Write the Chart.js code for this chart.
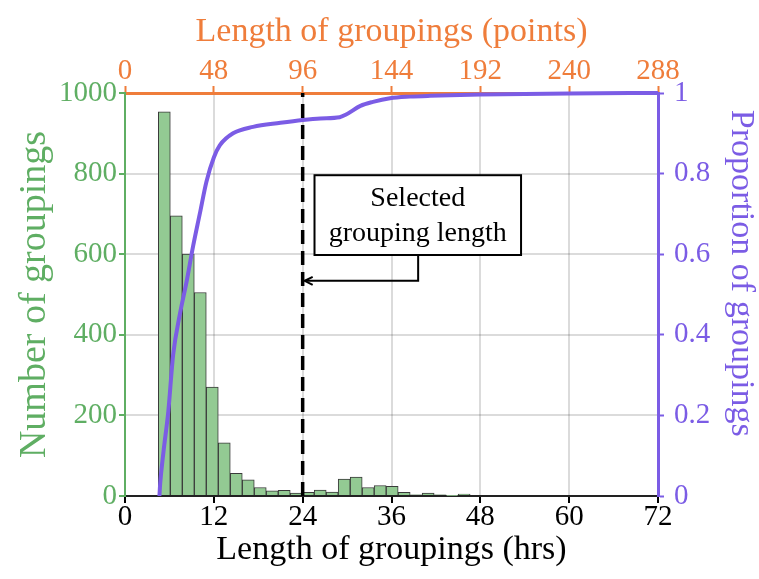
<!DOCTYPE html>
<html>
<head>
<meta charset="utf-8">
<script src="https://cdn.jsdelivr.net/npm/chart.js@4"></script>
<style>
  html, body { margin: 0; padding: 0; background: #fff; }
  #wrap { width: 759px; height: 579px; }
</style>
</head>
<body>
<div id="wrap"><canvas id="myChart" width="759" height="579"></canvas></div>
<script>
// histogram: bin centres (hrs) and counts
const binCenters = [5.31, 6.93, 8.55, 10.17, 11.79, 13.41, 15.03, 16.65, 18.27, 19.89, 21.51, 23.13, 24.75,
  26.37, 27.99, 29.61, 31.23, 32.85, 34.47, 36.09, 37.71, 39.33, 40.95, 42.57, 44.19, 45.81];
const counts = [953, 695, 600, 505, 270, 132, 56, 40, 21, 13, 14, 7, 9, 15, 10, 42, 47, 21, 26, 24, 9, 3, 7, 3, 1, 5];

// cumulative proportion curve
const cdfHours = [4.65, 4.75, 5.2, 5.85, 6.5, 7.4, 8.3, 9.2, 10.1, 11.0, 12.0, 12.8, 14.6, 17.3, 21.0, 24.0,
  26.4, 29.0, 29.8, 31.8, 33.5, 35.8, 38.5, 41.2, 48, 60, 72];
const cdfValues = [0, 0.03, 0.11, 0.21, 0.35, 0.45, 0.53, 0.62, 0.70, 0.78, 0.84, 0.87, 0.90, 0.916, 0.926, 0.933,
  0.937, 0.940, 0.946, 0.968, 0.978, 0.987, 0.991, 0.993, 0.996, 0.999, 1.0];

const selectedLength = 24;

const hrTicks = [0, 12, 24, 36, 48, 60, 72];
const pointTicks = [0, 48, 96, 144, 192, 240, 288];
const countTicks = [0, 200, 400, 600, 800, 1000];
const propTicks = [0, 0.2, 0.4, 0.6, 0.8, 1];

const green = "#5fae63";
const orange = "#ef7d3b";
const purple = "#7b5ce5";
const serif = "'Liberation Serif', 'Times New Roman', serif";

Chart.defaults.font.family = serif;

const fixSize = (size, dir) => (scale) => { scale[dir] = size; };
const plain = (v) => String(v);

// callout box with arrow pointing at the selected length
const calloutPlugin = {
  id: "callout",
  afterDatasetsDraw(chart) {
    const { ctx, scales } = chart;
    const x = scales.x, y = scales.y;
    const left = x.getPixelForValue(25.6), right = x.getPixelForValue(53.5);
    const top = y.getPixelForValue(796), bottom = y.getPixelForValue(598);
    const tipX = x.getPixelForValue(selectedLength) + 2;
    const stemX = x.getPixelForValue(39.6);
    const armY = y.getPixelForValue(534);
    ctx.save();
    ctx.fillStyle = "#fff";
    ctx.fillRect(left, top, right - left, bottom - top);
    ctx.strokeStyle = "#000";
    ctx.lineWidth = 2;
    ctx.strokeRect(left, top, right - left, bottom - top);
    ctx.fillStyle = "#000";
    ctx.font = "28px " + serif;
    ctx.textAlign = "center";
    ctx.textBaseline = "middle";
    const cx = (left + right) / 2;
    ctx.fillText("Selected", cx, top + 23);
    ctx.fillText("grouping length", cx, top + 58);
    ctx.beginPath();
    ctx.moveTo(stemX, bottom);
    ctx.lineTo(stemX, armY);
    ctx.lineTo(tipX, armY);
    ctx.stroke();
    ctx.beginPath();
    ctx.moveTo(tipX + 8, armY - 4);
    ctx.lineTo(tipX, armY);
    ctx.lineTo(tipX + 8, armY + 4);
    ctx.stroke();
    ctx.restore();
  },
};

const config = {
  type: "line",
  data: {
    datasets: [
      {
        type: "line",
        data: [{ x: selectedLength, y: 0 }, { x: selectedLength, y: 1 }],
        xAxisID: "x",
        yAxisID: "y2",
        borderColor: "#000",
        borderWidth: 3.5,
        borderDash: [14, 7],
        pointRadius: 0,
        clip: false,
        order: 0,
      },
      {
        type: "line",
        data: cdfHours.map((h, i) => ({ x: h, y: cdfValues[i] })),
        xAxisID: "x",
        yAxisID: "y2",
        borderColor: purple,
        borderWidth: 4,
        pointRadius: 0,
        cubicInterpolationMode: "monotone",
        clip: false,
        order: 1,
      },
      {
        type: "bar",
        data: binCenters.map((c, i) => ({ x: c, y: counts[i] })),
        xAxisID: "x",
        yAxisID: "y",
        backgroundColor: "#93ca93",
        borderColor: "#3a3a3a",
        borderWidth: 1,
        barPercentage: 1,
        categoryPercentage: 1,
        order: 2,
      },
    ],
  },
  options: {
    responsive: false,
    animation: false,
    layout: { padding: 0 },
    plugins: {
      legend: { display: false },
      tooltip: { enabled: false },
    },
    scales: {
      x: {
        type: "linear",
        position: "bottom",
        min: 0,
        max: 72,
        offset: false,
        afterBuildTicks: (s) => { s.ticks = hrTicks.map((v) => ({ value: v })); },
        afterFit: fixSize(83, "height"),
        ticks: { color: "#000", font: { size: 29, lineHeight: 1 }, padding: 0, maxRotation: 0, callback: plain },
        grid: { color: "rgba(0,0,0,0.14)", lineWidth: 2, tickColor: "#000", tickLength: 7, tickWidth: 2, offset: false },
        border: { color: "#222", width: 2 },
        title: {
          display: true,
          text: "Length of groupings (hrs)",
          color: "#000",
          font: { size: 34, lineHeight: 1 },
          padding: { top: 0, bottom: 12 },
        },
      },
      x2: {
        type: "linear",
        position: "top",
        min: 0,
        max: 288,
        z: 1,
        afterBuildTicks: (s) => { s.ticks = pointTicks.map((v) => ({ value: v })); },
        afterFit: fixSize(93, "height"),
        ticks: { color: orange, font: { size: 29, lineHeight: 1 }, padding: 0, maxRotation: 0, callback: plain },
        grid: { drawOnChartArea: false, tickColor: orange, tickLength: 7, tickWidth: 2 },
        border: { color: orange, width: 3 },
        title: {
          display: true,
          text: "Length of groupings (points)",
          color: orange,
          font: { size: 34, lineHeight: 1 },
          padding: { top: 15, bottom: 0 },
        },
      },
      y: {
        type: "linear",
        position: "left",
        min: 0,
        max: 1000,
        afterBuildTicks: (s) => { s.ticks = countTicks.map((v) => ({ value: v })); },
        afterFit: fixSize(125, "width"),
        ticks: { color: green, font: { size: 29, lineHeight: 1 }, padding: 2, callback: plain },
        grid: { color: "rgba(0,0,0,0.14)", lineWidth: 2, tickColor: green, tickLength: 6, tickWidth: 2 },
        border: { color: green, width: 2 },
        title: {
          display: true,
          text: "Number of groupings",
          color: green,
          font: { size: 38, lineHeight: 1 },
          padding: { top: 16, bottom: 0 },
        },
      },
      y2: {
        type: "linear",
        position: "right",
        min: 0,
        max: 1,
        z: 1,
        afterBuildTicks: (s) => { s.ticks = propTicks.map((v) => ({ value: v })); },
        afterFit: fixSize(101, "width"),
        ticks: { color: purple, font: { size: 29, lineHeight: 1 }, padding: 10, callback: plain },
        grid: { drawOnChartArea: false, tickColor: purple, tickLength: 6, tickWidth: 2 },
        border: { color: purple, width: 3 },
        title: {
          display: true,
          text: "Proportion of groupings\u00a0\u00a0\u00a0\u00a0\u00a0",
          color: purple,
          font: { size: 34, lineHeight: 1 },
          padding: { top: 1, bottom: 0 },
        },
      },
    },
  },
  plugins: [calloutPlugin],
};

const myChart = new Chart(document.getElementById("myChart"), config);
</script>
</body>
</html>
